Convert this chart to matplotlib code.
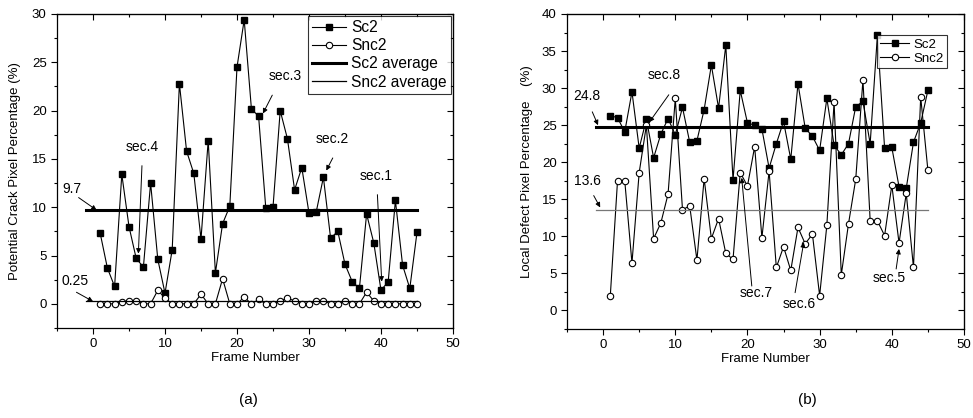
"""two panels: crack / defect pixel percentage per frame"""
import numpy as np
from matplotlib import pyplot as plt
from matplotlib.ticker import MultipleLocator

plt.rcParams['font.family'] = ['Liberation Sans', 'DejaVu Sans']

frames = list(range(1, 46))

# panel (a)
sc2_a = [7.3, 3.7, 1.8, 13.4, 8.0, 4.7, 3.8, 12.5, 4.6, 1.1,
         5.6, 22.8, 15.8, 13.5, 6.7, 16.9, 3.2, 8.3, 10.1, 24.5,
         29.4, 20.2, 19.4, 9.9, 10.0, 20.0, 17.1, 11.8, 14.1, 9.4,
         9.5, 13.1, 6.8, 7.5, 4.1, 2.3, 1.6, 9.3, 6.3, 1.4,
         2.3, 10.7, 4.0, 1.6, 7.4]
snc2_a = [0.0, 0.0, 0.0, 0.2, 0.3, 0.3, 0.0, 0.0, 1.4, 0.6,
          0.0, 0.0, 0.0, 0.0, 1.0, 0.0, 0.0, 2.6, 0.0, 0.0,
          0.7, 0.0, 0.45, 0.0, 0.0, 0.3, 0.6, 0.3, 0.0, 0.0,
          0.3, 0.3, 0.0, 0.0, 0.3, 0.0, 0.0, 1.2, 0.3, 0.0,
          0.0, 0.0, 0.0, 0.0, 0.0]
avg_a = (9.7, 0.25)

# panel (b)
sc2_b = [26.3, 26.0, 24.1, 29.5, 21.9, 25.8, 20.6, 23.8, 25.9, 23.7,
         27.4, 22.7, 22.9, 27.1, 33.1, 27.3, 35.8, 17.6, 29.7, 25.3,
         25.0, 24.5, 19.2, 22.5, 25.5, 20.4, 30.6, 24.6, 23.5, 21.6,
         28.6, 22.3, 21.0, 22.5, 27.5, 28.2, 22.5, 37.1, 21.9, 22.0,
         16.7, 16.5, 22.7, 25.3, 29.7]
snc2_b = [2.0, 17.5, 17.5, 6.4, 18.6, 25.0, 9.7, 11.8, 15.7, 28.6,
          13.6, 14.1, 6.8, 17.8, 9.7, 12.4, 7.7, 6.9, 18.6, 16.8,
          22.1, 9.8, 18.8, 5.8, 8.6, 5.4, 11.2, 9.0, 10.3, 2.0,
          11.5, 28.1, 4.8, 11.7, 17.7, 31.1, 12.1, 12.1, 10.1, 16.9,
          9.1, 15.8, 5.8, 28.8, 18.9]
avg_b = (24.8, 13.6)

avg_span = (-1, 45)

# (text, text xy, arrow tail, arrow tip)
notes_a = [
    ("9.7", (-4.3, 11.2), (-2.0, 11.0), (0.5, 9.7)),
    ("0.25", (-4.4, 1.6), (-2.3, 1.2), (0.0, 0.25)),
    ("sec.4", (6.8, 15.5), (6.8, 14.3), (6.3, 5.2)),
    ("sec.3", (26.7, 22.9), (24.9, 21.6), (23.6, 19.7)),
    ("sec.2", (33.3, 16.3), (33.3, 15.1), (32.4, 13.8)),
    ("sec.1", (39.3, 12.5), (39.5, 11.3), (40.1, 2.3)),
]
notes_b = [
    ("24.8", (-4.2, 28.0), (-1.5, 26.8), (-0.7, 25.0)),
    ("13.6", (-4.0, 16.5), (-1.3, 15.5), (-0.4, 13.9)),
    ("sec.8", (8.5, 30.8), (9.1, 29.1), (6.4, 25.4)),
    ("sec.7", (21.2, 1.4), (20.6, 3.3), (19.2, 17.9)),
    ("sec.6", (27.2, -0.1), (26.6, 2.4), (27.8, 9.2)),
    ("sec.5", (39.6, 3.4), (40.6, 5.6), (41.0, 8.3)),
]


def style_axes(ax, ymax):
    ax.set_xlim(-5, 50)
    ax.set_ylim(-2.5, ymax)
    ax.xaxis.set_major_locator(MultipleLocator(10))
    ax.xaxis.set_minor_locator(MultipleLocator(5))
    ax.yaxis.set_major_locator(MultipleLocator(5))
    ax.yaxis.set_minor_locator(MultipleLocator(2.5))
    ax.tick_params(which='major', direction='out', length=4, width=0.8, labelsize=9.5)
    ax.tick_params(which='minor', direction='out', length=2.5, width=0.8)
    for s in ax.spines.values():
        s.set_linewidth(0.9)
    # mirrored ticks on top / right point inward
    top = ax.secondary_xaxis('top')
    top.xaxis.set_major_locator(MultipleLocator(10))
    top.xaxis.set_minor_locator(MultipleLocator(5))
    top.tick_params(which='major', direction='in', length=4, width=0.8, labeltop=False)
    top.tick_params(which='minor', direction='in', length=2.5, width=0.8)
    right = ax.secondary_yaxis('right')
    right.yaxis.set_major_locator(MultipleLocator(5))
    right.yaxis.set_minor_locator(MultipleLocator(2.5))
    right.tick_params(which='major', direction='in', length=4, width=0.8, labelright=False)
    right.tick_params(which='minor', direction='in', length=2.5, width=0.8)


def draw(ax, sc2, snc2, avgs, thin_color, notes):
    ax.plot(frames, sc2, '-s', color='black', lw=0.8, ms=4.2,
            mfc='black', mec='black', label='Sc2')
    ax.plot(frames, snc2, '-o', color='black', lw=0.8, ms=4.6,
            mfc='white', mec='black', mew=0.8, label='Snc2')
    h1, = ax.plot(avg_span, [avgs[0]] * 2, color='black', lw=2.2)
    h2, = ax.plot(avg_span, [avgs[1]] * 2, color=thin_color, lw=0.9)
    for text, txy, tail, tip in notes:
        ax.text(txy[0], txy[1], text, fontsize=10,
                ha='center' if text.startswith('sec') else 'left', va='bottom')
        ax.annotate('', xy=tip, xytext=tail,
                    arrowprops=dict(arrowstyle='-|>', lw=0.7, color='black',
                                    mutation_scale=7, shrinkA=0, shrinkB=0))
    return h1, h2


fig = plt.figure(figsize=(9.73, 4.18), dpi=100)
ax_a = fig.add_axes([57 / 973, 90 / 418, 396 / 973, 314 / 418])
ax_b = fig.add_axes([567 / 973, 89 / 418, 397 / 973, 315 / 418])

style_axes(ax_a, 30)
style_axes(ax_b, 40)

h1, h2 = draw(ax_a, sc2_a, snc2_a, avg_a, 'black', notes_a)
h1.set_label('Sc2 average')
h2.set_label('Snc2 average')
draw(ax_b, sc2_b, snc2_b, avg_b, '#777777', notes_b)

leg = ax_a.legend(loc='upper right', fontsize=11.2, frameon=True, fancybox=False,
                  edgecolor='black', borderaxespad=0.1, handlelength=2.2,
                  handletextpad=0.3, labelspacing=0.2, borderpad=0.3, numpoints=1)
leg.get_frame().set_linewidth(0.8)
leg_b = ax_b.legend(loc='upper right', bbox_to_anchor=(0.957, 0.933), borderaxespad=0,
                    fontsize=9.5, frameon=True, fancybox=False, edgecolor='black',
                    handlelength=2.2, handletextpad=0.3, labelspacing=0.15,
                    borderpad=0.25, numpoints=1)
leg_b.get_frame().set_linewidth(0.8)

ax_a.set_xlabel('Frame Number', fontsize=9.5)
ax_b.set_xlabel('Frame Number', fontsize=9.5)
ax_a.set_ylabel('Potential Crack Pixel Percentage (%)', fontsize=9.5)
ax_b.set_ylabel('Local Defect Pixel Percentage    (%)', fontsize=9.5)
ax_a.xaxis.set_label_coords(0.5, -0.075)
ax_b.xaxis.set_label_coords(0.5, -0.075)
ax_a.yaxis.set_label_coords(-0.09, 0.5)
ax_b.yaxis.set_label_coords(-0.086, 0.5)

fig.text(248 / 973, 1 - 400 / 418, '(a)', fontsize=11, ha='center', va='center')
fig.text(807 / 973, 1 - 400 / 418, '(b)', fontsize=11, ha='center', va='center')

fig.savefig('out.png', dpi=100)
